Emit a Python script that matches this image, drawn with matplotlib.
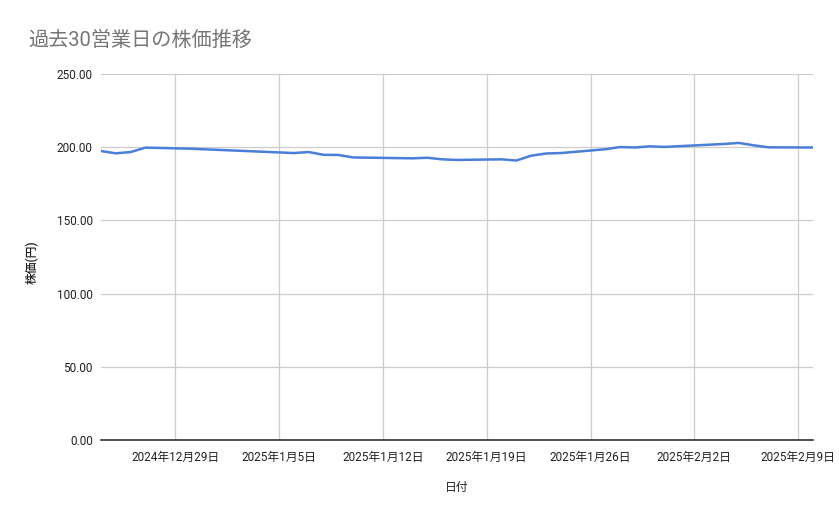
import pandas as pd
import numpy as np
import matplotlib.pyplot as plt
import matplotlib.dates as mdates

plt.rcParams['font.family'] = ['Roboto', 'Noto Sans CJK JP', 'DejaVu Sans']

# 30 business days (Japanese market calendar)
dates = ['2024-12-24', '2024-12-25', '2024-12-26', '2024-12-27', '2024-12-30',
         '2025-01-06', '2025-01-07', '2025-01-08', '2025-01-09', '2025-01-10',
         '2025-01-14', '2025-01-15', '2025-01-16', '2025-01-17', '2025-01-20',
         '2025-01-21', '2025-01-22', '2025-01-23', '2025-01-24', '2025-01-27',
         '2025-01-28', '2025-01-29', '2025-01-30', '2025-01-31', '2025-02-03',
         '2025-02-04', '2025-02-05', '2025-02-06', '2025-02-07', '2025-02-10']
prices = [197.4, 195.8, 196.7, 199.7, 199.0,
          196.0, 196.7, 194.8, 194.7, 193.0,
          192.4, 192.8, 191.7, 191.3, 191.7,
          190.9, 194.2, 195.7, 196.0, 198.6,
          200.1, 199.8, 200.6, 200.2, 201.7,
          202.2, 202.9, 201.3, 199.9, 199.8]

tick_dates = ['2024-12-29', '2025-01-05', '2025-01-12', '2025-01-19',
              '2025-01-26', '2025-02-02', '2025-02-09']
tick_labels = ['2024年12月29日', '2025年1月5日', '2025年1月12日', '2025年1月19日',
               '2025年1月26日', '2025年2月2日', '2025年2月9日']
y_ticks = [0, 50, 100, 150, 200, 250]

df = pd.DataFrame({'date': pd.to_datetime(dates), 'price': prices})

fig = plt.figure(figsize=(8.39, 5.19), dpi=100)
ax = fig.add_axes([101 / 839, 1 - 440 / 519, 712 / 839, 366 / 519])

ax.plot(df['date'], df['price'], color='#4a7fd9', linewidth=1.8, solid_joinstyle='round')

ax.set_xlim(pd.Timestamp('2024-12-24'), pd.Timestamp('2025-02-10'))
ax.set_ylim(0, 250)
ax.set_xticks(pd.to_datetime(tick_dates))
ax.set_xticklabels(tick_labels)
ax.set_yticks(y_ticks)
ax.set_yticklabels([f'{v:.2f}' for v in y_ticks])

ax.grid(True, color='#cccccc', linewidth=0.9)
ax.set_axisbelow(True)
for side in ['top', 'right', 'left']:
    ax.spines[side].set_visible(False)
ax.spines['bottom'].set_color('#333333')
ax.spines['bottom'].set_linewidth(1.2)
ax.tick_params(axis='both', length=0, labelsize=8.5, colors='#222222', pad=6)
ax.tick_params(axis='x', pad=8)

ax.set_xlabel('日付', fontsize=8.5, color='#222222', labelpad=12)
ax.set_ylabel('株価(円)', fontsize=8.5, color='#222222', fontweight='medium')
ax.yaxis.set_label_coords(-(101 - 39) / 712, (440 - 262) / 366)

fig.text(28 / 839, 1 - 40 / 519, '過去30営業日の株価推移', fontsize=14.5,
         color='#757575', va='center', ha='left')

fig.savefig('out.png', dpi=100)
